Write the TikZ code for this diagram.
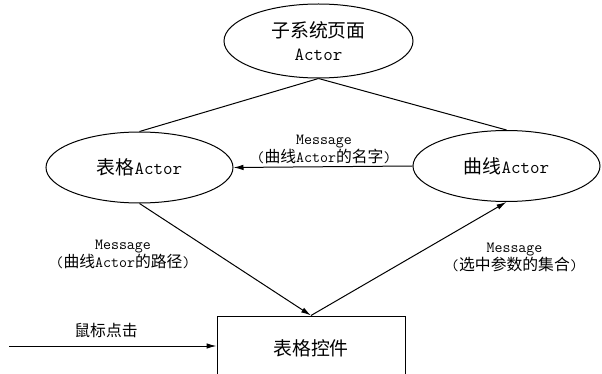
\documentclass[tikz,border=0pt]{standalone}
\usepackage{fontspec}
\newfontfamily\cjk{Noto Sans CJK SC}[Scale=1.02]
\usetikzlibrary{shapes.geometric,arrows.meta}
\newcommand{\zh}[1]{{\cjk #1}}

\tikzset{
  actor/.style={draw,ellipse,line width=1pt,inner sep=0pt,minimum width=187pt,minimum height=71pt,align=center,font=\ttfamily\fontsize{18.5}{23}\selectfont},
  ctrlbox/.style={draw,rectangle,line width=1pt,minimum width=188pt,minimum height=64pt,font=\ttfamily\fontsize{18.5}{23}\selectfont},
  msg/.style={align=center,inner sep=0pt,font=\ttfamily\fontsize{15.5}{16.5}\selectfont},
}

\begin{document}
\begin{tikzpicture}[x=1pt,y=-1pt,>={Latex[length=10pt,width=5.5pt]},line width=1pt]
\clip (0,0) rectangle (602,374);

\node[actor,minimum width=189pt,minimum height=74pt] (sub) at (318.5,41) {\zh{子系统页面}\\Actor};
\node[actor] (tbl) at (139.5,167.5) {\zh{表格}Actor};
\node[actor] (curve) at (506.5,166) {\zh{曲线}Actor};
\node[ctrlbox] (ctrl) at (311,348) {\zh{表格控件}};
\coordinate (mouse) at (9,346);

\draw (sub.south) -- (tbl.north);
\draw (sub.south) -- (curve.north);
\draw[->] (curve.west) -- (tbl.east);
\draw[->] (tbl.south) -- (ctrl.north);
\draw[->] (ctrl.north) -- (curve.south);
\draw[->] (mouse) -- (mouse -| ctrl.west);

\node[msg] (msgname) at (324,149.5) {Message\\(\zh{曲线}Actor\zh{的名字})};
\node[msg] (msgpath) at (123,254.5) {Message\\(\zh{曲线}Actor\zh{的路径})};
\node[msg] (msgset) at (514.5,257) {Message\\(\zh{选中参数的集合})};
\node[msg] (click) at (106,330) {\zh{鼠标点击}};
\end{tikzpicture}
\end{document}
